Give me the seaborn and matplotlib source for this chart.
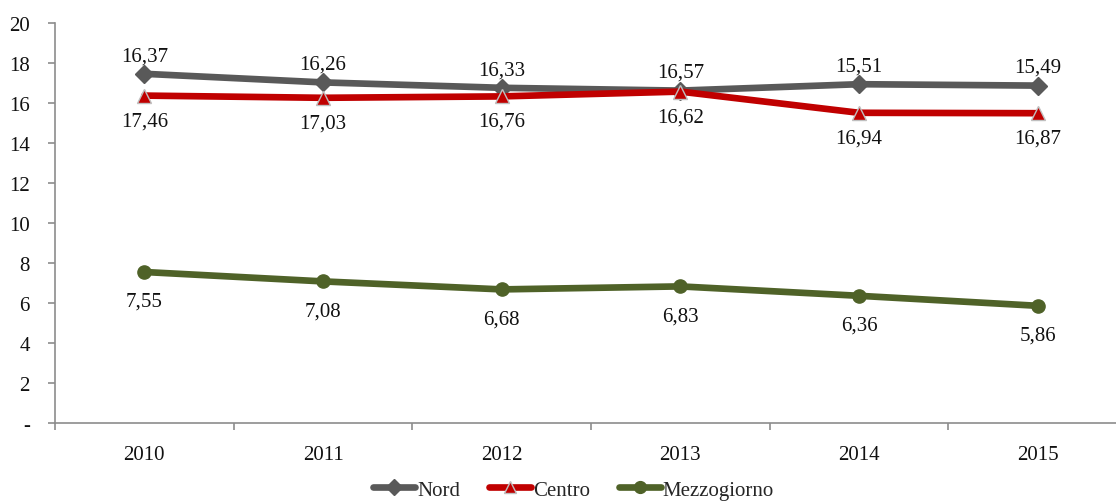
import matplotlib
matplotlib.use("Agg")
import matplotlib.pyplot as plt
from matplotlib.lines import Line2D
import pandas as pd
import seaborn as sns

# Series values by year
years = ["2010", "2011", "2012", "2013", "2014", "2015"]
nord = [17.46, 17.03, 16.76, 16.62, 16.94, 16.87]
centro = [16.37, 16.26, 16.33, 16.57, 15.51, 15.49]
mezzogiorno = [7.55, 7.08, 6.68, 6.83, 6.36, 5.86]

areas = ["Nord", "Centro", "Mezzogiorno"]
values = {"Nord": nord, "Centro": centro, "Mezzogiorno": mezzogiorno}
palette = {"Nord": "#595959", "Centro": "#C00000", "Mezzogiorno": "#4F6228"}
marker_map = {"Nord": "D", "Centro": "^", "Mezzogiorno": "o"}
edge_map = {"Nord": "#595959", "Centro": "#BFBFBF", "Mezzogiorno": "#4F6228"}

rows = []
for area in areas:
    for i, (yr, v) in enumerate(zip(years, values[area])):
        rows.append({"pos": i, "anno": yr, "area": area, "valore": v})
df = pd.DataFrame(rows)

sns.set_theme(style="white")
plt.rcParams["font.family"] = ["Liberation Serif", "DejaVu Serif"]
FS = 15

fig = plt.figure(figsize=(11.16, 5.02), dpi=100)
ax = fig.add_axes([55 / 1116, 78 / 502, 1072 / 1116, 400 / 502])

sns.lineplot(data=df, x="pos", y="valore", hue="area", style="area",
             hue_order=areas, style_order=areas, palette=palette,
             markers=marker_map, dashes=False, linewidth=4.8,
             markersize=9.5, legend=False, ax=ax)
for line, area in zip(ax.get_lines(), areas):
    line.set_markeredgecolor(edge_map[area])
    line.set_markeredgewidth(1.0)

# Value labels
fmt = lambda v: f"{v:.2f}".replace(".", ",")
for i in range(len(years)):
    top = max(nord[i], centro[i])
    bottom = min(nord[i], centro[i])
    ax.annotate(fmt(centro[i]), (i, top), xytext=(0, 13), textcoords="offset points",
                ha="center", va="center", fontsize=FS, color="#111111")
    ax.annotate(fmt(nord[i]), (i, bottom), xytext=(0, -18), textcoords="offset points",
                ha="center", va="center", fontsize=FS, color="#111111")
    ax.annotate(fmt(mezzogiorno[i]), (i, mezzogiorno[i]), xytext=(0, -21),
                textcoords="offset points", ha="center", va="center",
                fontsize=FS, color="#111111")

ax.set_xlim(-0.5, len(years) - 0.5)
ax.set_ylim(0, 20)
ax.set_yticks(range(0, 21, 2))
ax.set_yticklabels(["-"] + [str(v) for v in range(2, 21, 2)])
ax.set_xticks(range(len(years)))
ax.set_xticklabels(years)
ax.set_xticks([k - 0.5 for k in range(len(years) + 1)], minor=True)
ax.set_xlabel("")
ax.set_ylabel("")

spine_col = "#8C8C8C"
for side in ["top", "right"]:
    ax.spines[side].set_visible(False)
for side in ["left", "bottom"]:
    ax.spines[side].set_color(spine_col)
    ax.spines[side].set_linewidth(1.2)
ax.tick_params(axis="y", which="major", left=True, length=5, width=1.2,
               color=spine_col, pad=13, labelsize=FS, labelcolor="#111111")
ax.tick_params(axis="x", which="major", bottom=False, length=0, pad=16,
               labelsize=FS, labelcolor="#111111")
ax.tick_params(axis="x", which="minor", bottom=True, length=5, width=1.2,
               color=spine_col)
ax.grid(False)

handles = [Line2D([0], [0], color=palette[a], lw=4.8, marker=marker_map[a],
                  markersize=8.5, markeredgecolor=edge_map[a], markeredgewidth=1.0)
           for a in areas]
fig.legend(handles, areas, loc="center", bbox_to_anchor=(0.514, 0.022), ncol=3,
           frameon=False, fontsize=FS, handlelength=2.0, handletextpad=0.1,
           columnspacing=1.4)

fig.savefig("out.png", dpi=100)
